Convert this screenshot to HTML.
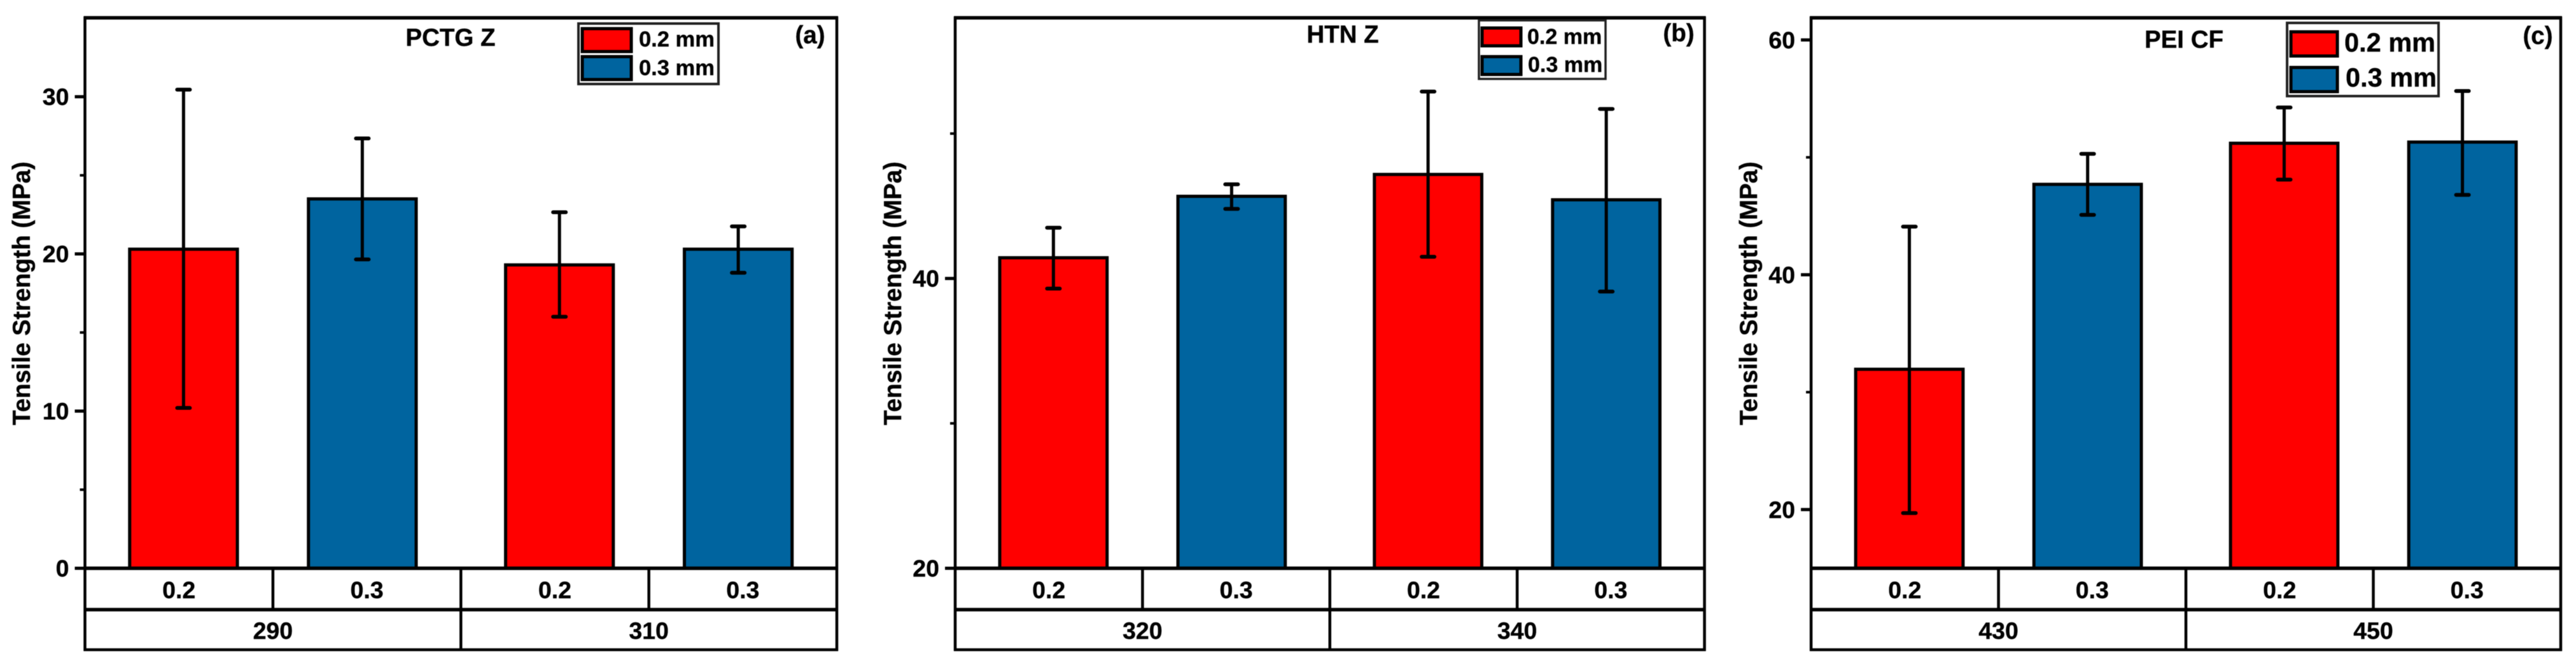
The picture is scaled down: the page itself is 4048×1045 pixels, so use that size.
<!DOCTYPE html>
<html lang="en">
<head>
<meta charset="utf-8">
<title>Tensile Strength Bar Charts</title>
<style>
html,body{margin:0;padding:0;background:#fff;}
body{width:4048px;height:1045px;overflow:hidden;}
svg{display:block;filter:blur(0.6px);}
text{font-family:"Liberation Sans",Arial,sans-serif;font-weight:bold;fill:#000;stroke:#000;stroke-width:0.4px;}
</style>
</head>
<body>
<svg id="figure" xmlns="http://www.w3.org/2000/svg" width="4048" height="1045" viewBox="0 0 4048 1045">
  <rect x="0" y="0" width="4048" height="1045" fill="#fff"/>

  <g id="panel-a">
    <g id="marks-a"></g>
    <text transform="translate(47,461) rotate(-90)" text-anchor="middle" font-size="38.5">Tensile Strength (MPa)</text>
    <text x="708" y="72" text-anchor="middle" font-size="38.5">PCTG Z</text>
    <text x="1273" y="68" text-anchor="middle" font-size="38.5">(a)</text>
    <g>
      <rect x="909" y="37" width="220" height="95" fill="#fff" stroke="#222" stroke-width="4"/>
      <rect x="915" y="45" width="77" height="36" fill="#ff0000" stroke="#000" stroke-width="5"/>
      <text x="1004" y="73" font-size="34.5">0.2 mm</text>
      <rect x="915" y="89" width="77" height="36" fill="#00649f" stroke="#000" stroke-width="5"/>
      <text x="1004" y="118" font-size="34.5">0.3 mm</text>
    </g>
  </g>

  <g id="panel-b">
    <g id="marks-b"></g>
    <text transform="translate(1416,461) rotate(-90)" text-anchor="middle" font-size="38.5">Tensile Strength (MPa)</text>
    <text x="2110" y="67" text-anchor="middle" font-size="38.5">HTN Z</text>
    <text x="2638" y="65" text-anchor="middle" font-size="38.5">(b)</text>
    <g>
      <rect x="2324" y="32" width="199" height="92" fill="#fff" stroke="#222" stroke-width="3.5"/>
      <rect x="2329" y="44" width="61" height="28" fill="#ff0000" stroke="#000" stroke-width="5"/>
      <text x="2400" y="69" font-size="34">0.2 mm</text>
      <rect x="2329" y="89" width="61" height="28" fill="#00649f" stroke="#000" stroke-width="5"/>
      <text x="2401" y="113" font-size="34">0.3 mm</text>
    </g>
  </g>

  <g id="panel-c">
    <g id="marks-c"></g>
    <text transform="translate(2761,461) rotate(-90)" text-anchor="middle" font-size="38.5">Tensile Strength (MPa)</text>
    <text x="3432" y="75" text-anchor="middle" font-size="38.5">PEI CF</text>
    <text x="3988" y="69" text-anchor="middle" font-size="38.5">(c)</text>
    <g>
      <rect x="3594" y="36" width="238" height="115" fill="#fff" stroke="#222" stroke-width="4"/>
      <rect x="3600" y="50" width="73" height="38" fill="#ff0000" stroke="#000" stroke-width="5"/>
      <text x="3684" y="81" font-size="41.5">0.2 mm</text>
      <rect x="3600" y="106" width="73" height="38" fill="#00649f" stroke="#000" stroke-width="5"/>
      <text x="3686" y="136" font-size="41.5">0.3 mm</text>
    </g>
  </g>
</svg>

<script>
// ---- Panel (a) PCTG Z ----
const layerLabels = ['0.2', '0.3', '0.2', '0.3'];
const seriesColors = ['#ff0000', '#00649f', '#ff0000', '#00649f'];

const aGroups = ['290', '310'];
const aMeans = [20.3, 23.5, 19.3, 20.3];
const aUpper = [30.45, 27.35, 22.65, 21.75];
const aLower = [10.2, 19.65, 16.0, 18.8];
const aMajorTicks = [0, 10, 20, 30];
const aMinorTicks = [5, 15, 25];

// ---- Panel (b) HTN Z ----
const bGroups = ['320', '340'];
const bMeans = [41.43, 45.67, 47.18, 45.43];
const bUpper = [43.5, 46.5, 52.9, 51.7];
const bLower = [39.3, 44.8, 41.5, 39.1];
const bMajorTicks = [20, 40];
const bMinorTicks = [30, 50];

// ---- Panel (c) PEI CF ----
const cGroups = ['430', '450'];
const cMeans = [31.95, 47.7, 51.2, 51.3];
const cUpper = [44.1, 50.3, 54.25, 55.65];
const cLower = [19.7, 45.1, 48.1, 46.8];
const cMajorTicks = [20, 40, 60];
const cMinorTicks = [30, 50];

// Plot geometry (shared vertical structure)
const TOP = 28, BASE = 893, ROW = 958, BOTTOM = 1021;
const NS = 'http://www.w3.org/2000/svg';

const panels = [
  { id: 'a', name: 'panel-a', layerId: 'marks-a', left: 133.5, right: 1315, yMin: 0, yPerUnit: 24.7,
    groups: aGroups, means: aMeans, upper: aUpper, lower: aLower, major: aMajorTicks, minor: aMinorTicks },
  { id: 'b', name: 'panel-b', layerId: 'marks-b', left: 1501, right: 2678.5, yMin: 20, yPerUnit: 22.77,
    groups: bGroups, means: bMeans, upper: bUpper, lower: bLower, major: bMajorTicks, minor: bMinorTicks },
  { id: 'c', name: 'panel-c', layerId: 'marks-c', left: 2846, right: 4024, yMin: 15, yPerUnit: 18.45,
    groups: cGroups, means: cMeans, upper: cUpper, lower: cLower, major: cMajorTicks, minor: cMinorTicks }
];

function mk(parent, tag, attrs, content) {
  const el = document.createElementNS(NS, tag);
  for (const k in attrs) el.setAttribute(k, attrs[k]);
  if (content !== undefined) el.textContent = content;
  parent.appendChild(el);
  return el;
}

function drawPanel(p) {
  const root = document.getElementById(p.layerId);
  const width = p.right - p.left;
  const groupW = width / p.groups.length;
  const cellW = width / layerLabels.length;
  const barW = groupW * 0.2865;
  const offset = groupW * 0.2378;
  const capW = 20;

  const yScale = v => BASE - (v - p.yMin) * p.yPerUnit;
  const groupCenter = g => p.left + (g + 0.5) * groupW;
  const barCenter = i => {
    const g = Math.floor(i / 2);
    return groupCenter(g) + (i % 2 === 0 ? -offset : offset);
  };

  // Bars
  p.means.forEach((v, i) => {
    const cx = barCenter(i);
    const top = yScale(v);
    const bar = mk(root, 'rect', {
      x: cx - barW / 2, y: top, width: barW, height: BASE - top,
      fill: seriesColors[i], stroke: '#000', 'stroke-width': 5
    });
    
    
  });

  // Error bars
  p.means.forEach((v, i) => {
    const cx = barCenter(i);
    const yU = yScale(p.upper[i]);
    const yL = yScale(p.lower[i]);
    const g = mk(root, 'g', { stroke: '#000', 'stroke-width': 5, fill: 'none' });
    
    
    mk(g, 'line', { x1: cx, x2: cx, y1: yU, y2: yL });
    mk(g, 'line', { x1: cx - capW / 2, x2: cx + capW / 2, y1: yU, y2: yU, 'stroke-width': 6, 'stroke-linecap': 'round' });
    mk(g, 'line', { x1: cx - capW / 2, x2: cx + capW / 2, y1: yL, y2: yL, 'stroke-width': 6, 'stroke-linecap': 'round' });
  });

  // Frame
  const frame = mk(root, 'g', { stroke: '#000', fill: 'none' });
  
  
  mk(frame, 'line', { x1: p.left, x2: p.left, y1: TOP - 2, y2: BOTTOM + 2, 'stroke-width': 4.5 });
  mk(frame, 'line', { x1: p.right, x2: p.right, y1: TOP - 2, y2: BOTTOM + 2, 'stroke-width': 4.5 });
  mk(frame, 'line', { x1: p.left - 2, x2: p.right + 2, y1: TOP, y2: TOP, 'stroke-width': 5.5 });
  mk(frame, 'line', { x1: p.left - 2, x2: p.right + 2, y1: BASE, y2: BASE, 'stroke-width': 5.5 });
  mk(frame, 'line', { x1: p.left - 2, x2: p.right + 2, y1: ROW, y2: ROW, 'stroke-width': 5.5 });
  mk(frame, 'line', { x1: p.left - 2, x2: p.right + 2, y1: BOTTOM, y2: BOTTOM, 'stroke-width': 4.5 });

  // Category table separators
  for (let c = 1; c < layerLabels.length; c++) {
    const x = p.left + c * cellW;
    const sep = mk(frame, 'line', { x1: x, x2: x, y1: BASE, y2: c === 2 ? BOTTOM : ROW, 'stroke-width': 4.5 });
    
    
  }

  // Layer labels
  layerLabels.forEach((t, c) => {
    const el = mk(root, 'text', { x: p.left + (c + 0.5) * cellW, y: 940, 'text-anchor': 'middle', 'font-size': 37.5 }, t);
    
    
  });

  // Group labels
  p.groups.forEach((t, g) => {
    const el = mk(root, 'text', { x: groupCenter(g), y: 1004, 'text-anchor': 'middle', 'font-size': 37.5 }, t);
    
    
  });

  // Major ticks
  p.major.forEach(v => {
    const y = yScale(v);
    const tick = mk(root, 'line', { x1: p.left - 16, x2: p.left, y1: y, y2: y, stroke: '#000', 'stroke-width': 5 });
    
    
    const label = mk(root, 'text', { x: p.left - 25, y: y + 13, 'text-anchor': 'end', 'font-size': 37.5 }, String(v));
    
    
  });

  // Minor ticks
  p.minor.forEach(v => {
    const y = yScale(v);
    const tick = mk(root, 'line', { x1: p.left - 8, x2: p.left, y1: y, y2: y, stroke: '#000', 'stroke-width': 4 });
    
    
  });
}

panels.forEach(drawPanel);
</script>
</body>
</html>
